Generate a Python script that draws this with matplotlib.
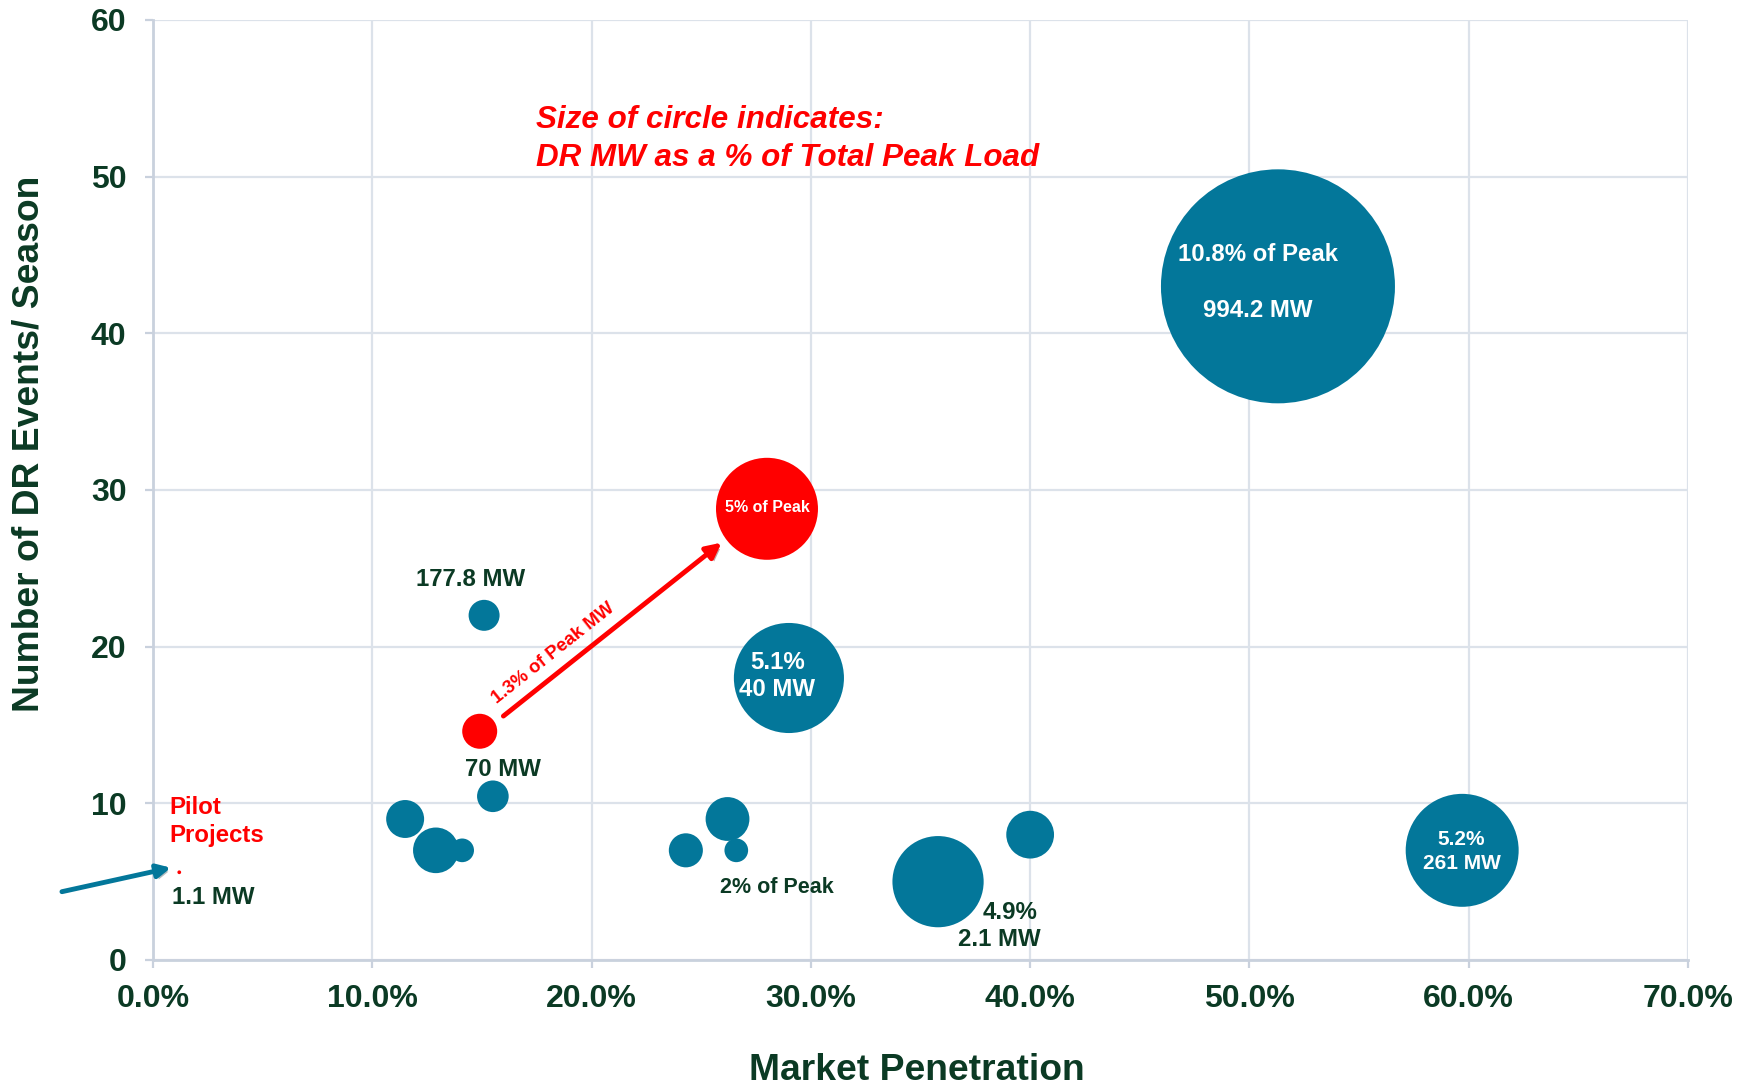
import matplotlib
matplotlib.use("Agg")
import matplotlib.pyplot as plt
import matplotlib.patheffects as pe
import numpy as np

plt.rcParams['font.family'] = ['Liberation Sans', 'DejaVu Sans']

# ---- data ----
market_pen = [51.3, 28.0, 29.0, 15.1, 14.9, 15.5, 11.5, 12.9, 14.1, 24.3, 26.2, 26.6, 35.8, 40.0, 59.7, 1.2]
events     = [43.0, 28.8, 18.0, 22.0, 14.6, 10.45, 9.0, 7.0, 7.0, 7.0, 9.0, 7.0, 5.0, 8.0, 7.0, 5.6]
bubble_val = [136.9, 26.0, 30.3, 2.4, 3.06, 2.5, 3.6, 5.2, 1.4, 2.9, 4.8, 1.4, 20.8, 5.7, 31.9, 0.035]
is_red     = [False, True, False, False, True, False, False, False, False, False, False, False, False, False, False, True]

x_ticks = [0, 10, 20, 30, 40, 50, 60, 70]
y_ticks = [0, 10, 20, 30, 40, 50, 60]

TEAL = '#03779A'
RED = '#FF0000'
DKG = '#0B3A24'
GRID = '#DCE2EA'
AX = '#C9D1DD'

fig = plt.figure(figsize=(17.54, 10.85), dpi=100)
ax = fig.add_axes([0.0872, 0.11521, 0.8752, 0.86636])

# bubble value -> marker area (points^2): radius in px = 10*sqrt(value)
sizes = [(2 * 10 * np.sqrt(v) * 0.72) ** 2 for v in bubble_val]
colors = [RED if r else TEAL for r in is_red]
ax.scatter(market_pen, events, s=sizes, c=colors, linewidths=0, zorder=3)

ax.set_xlim(0, 70)
ax.set_ylim(0, 60)
ax.set_xticks(x_ticks)
ax.set_yticks(y_ticks)
ax.set_xticklabels([f"{t:.1f}%" for t in x_ticks])
ax.set_yticklabels([str(t) for t in y_ticks])
ax.grid(True, color=GRID, lw=1.6)
ax.set_axisbelow(True)
for s in ['top', 'right']:
    ax.spines[s].set_visible(False)
for s in ['left', 'bottom']:
    ax.spines[s].set_color(AX)
    ax.spines[s].set_linewidth(2)
ax.tick_params(axis='both', colors=AX, length=6, width=1.6)
ax.tick_params(axis='y', pad=13)
ax.tick_params(axis='x', pad=11)
for lab in ax.get_xticklabels() + ax.get_yticklabels():
    lab.set_color(DKG)
    lab.set_fontsize(23)
    lab.set_fontweight('bold')

# axis titles
fig.text(29 / 1754, 1 - 444 / 1085, "Number of DR Events/ Season", rotation=90,
         ha='center', va='center', fontsize=26.8, fontweight='bold', color=DKG)
fig.text(917 / 1754, 1 - 1071 / 1085, "Market Penetration",
         ha='center', va='center', fontsize=26.8, fontweight='bold', color=DKG)

# annotation title
ax.text(17.46, 53.6, "Size of circle indicates:", color=RED, fontsize=22.6,
        fontweight='bold', fontstyle='italic', ha='left', va='center')
ax.text(17.46, 51.2, "DR MW as a % of Total Peak Load", color=RED, fontsize=22.6,
        fontweight='bold', fontstyle='italic', ha='left', va='center')

# in-bubble labels (white)
W = dict(color='white', fontweight='bold', ha='center', va='center', zorder=5)
ax.text(50.40, 45.0, "10.8% of Peak", fontsize=17.3, **W)
ax.text(50.36, 41.45, "994.2 MW", fontsize=17.3, **W)
ax.text(28.0, 28.86, "5% of Peak", fontsize=11.5, **W)
ax.text(28.5, 19.0, "5.1%", fontsize=17.3, **W)
ax.text(28.45, 17.25, "40 MW", fontsize=17.3, **W)
ax.text(59.67, 7.67, "5.2%", fontsize=15, **W)
ax.text(59.67, 6.14, "261 MW", fontsize=15, **W)

# outside labels (dark green)
G = dict(color=DKG, fontweight='bold', ha='center', va='center', zorder=5)
ax.text(14.49, 24.3, "177.8 MW", fontsize=17.3, **G)
ax.text(15.94, 12.13, "70 MW", fontsize=17.3, **G)
ax.text(28.45, 4.6, "2% of Peak", fontsize=15.5, **G)
ax.text(39.1, 3.01, "4.9%", fontsize=17.3, **G)
ax.text(38.6, 1.31, "2.1 MW", fontsize=17.3, **G)
ax.text(0.85, 3.98, "1.1 MW", fontsize=17.3, color=DKG, fontweight='bold', ha='left', va='center')

ax.text(0.73, 9.74, "Pilot", fontsize=17.3, color=RED, fontweight='bold', ha='left', va='center')
ax.text(0.73, 7.94, "Projects", fontsize=17.3, color=RED, fontweight='bold', ha='left', va='center')

# red arrow with shadow
ax.annotate("", xy=(25.93, 26.64), xytext=(15.98, 15.57),
            arrowprops=dict(arrowstyle='-|>,head_length=0.9,head_width=0.45', color=RED, lw=3.5,
                            shrinkA=0, shrinkB=0,
                            path_effects=[pe.SimplePatchShadow(offset=(2, -2), alpha=0.35), pe.Normal()]),
            zorder=4)
ax.text(18.25, 19.55, "1.3% of Peak MW", rotation=38.5, rotation_mode='anchor',
        fontsize=13.3, color=RED, fontweight='bold', ha='center', va='center')

# teal arrow pointing at pilot dot
ax.annotate("", xy=(0.82, 5.89), xytext=(-4.15, 4.36),
            arrowprops=dict(arrowstyle='-|>,head_length=0.8,head_width=0.4', color=TEAL, lw=3.5,
                            shrinkA=0, shrinkB=0,
                            path_effects=[pe.SimplePatchShadow(offset=(2, -2), alpha=0.3), pe.Normal()]),
            annotation_clip=False, zorder=4)

fig.savefig("out.png", dpi=100, facecolor='white')
